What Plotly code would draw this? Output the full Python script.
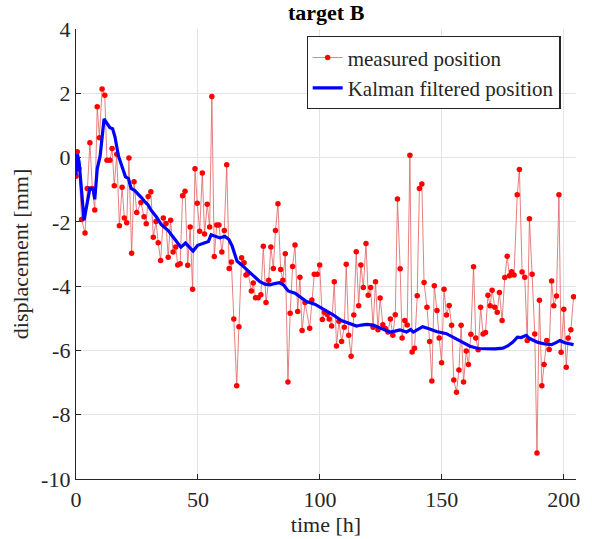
import plotly.graph_objects as go

# measured position (time [h], displacement [mm])
meas_t = [0.0, 0.5, 1.2, 2.3, 3.7, 4.6, 5.7, 6.7, 7.7, 8.7, 9.6, 10.7, 11.8, 12.7, 13.9, 14.8, 15.7, 16.7,
          17.8, 18.9, 19.8, 20.8, 21.7, 22.8, 23.8, 24.9, 26.6, 27.9, 28.8, 29.6, 30.7, 31.7, 32.8, 33.7,
          34.7, 35.8, 36.9, 37.8, 38.8, 39.8, 40.9, 41.7, 42.7, 43.7, 44.7, 45.8, 46.8, 47.8, 48.8, 49.7,
          50.7, 51.8, 52.7, 53.8, 54.8, 55.7, 56.7, 57.7, 58.6, 59.8, 60.8, 61.8, 62.8, 63.7, 64.7, 65.9,
          66.8, 67.9, 68.9, 69.7, 70.6, 71.9, 72.7, 73.6, 74.7, 75.8, 76.8, 77.9, 79.0, 79.9, 80.9, 81.8,
          82.8, 83.9, 84.8, 85.8, 86.9, 87.8, 88.8, 89.8, 90.9, 91.8, 92.7, 93.9, 95.8, 96.7, 97.7, 98.9,
          99.9, 101.0, 101.9, 103.0, 103.8, 104.8, 105.9, 106.8, 107.8, 108.9, 110.0, 110.8, 111.8, 112.8,
          113.9, 114.9, 115.9, 116.8, 117.8, 118.9, 119.8, 120.8, 121.8, 122.8, 123.8, 124.7, 125.8, 126.8,
          127.9, 128.9, 129.9, 130.9, 131.8, 132.9, 133.7, 134.8, 135.8, 136.9, 137.8, 138.8, 139.9, 140.8,
          141.8, 142.7, 143.9, 145.0, 145.9, 146.9, 148.0, 148.9, 149.9, 150.9, 151.9, 153.0, 154.0, 154.9,
          156.0, 157.0, 157.9, 158.9, 160.0, 160.9, 161.9, 163.0, 163.9, 164.9, 165.9, 166.9, 167.9, 168.9,
          169.8, 170.6, 171.7, 172.7, 173.6, 174.7, 175.8, 176.8, 177.7, 178.6, 179.6, 180.9, 181.8, 182.9,
          184.0, 185.0, 185.9, 187.0, 188.1, 189.0, 190.0, 191.0, 191.9, 193.0, 194.0, 195.0, 195.9, 197.0,
          198.0, 198.9, 200.0, 201.0, 201.8, 202.9, 204.0]
meas_y = [-0.58, 0.18, -0.34, -1.93, -2.35, -0.96, 0.46, -0.96, -1.63, 1.58, 0.62, 2.13, 1.94, -0.08, -0.08,
          0.28, -0.88, 0.10, -2.12, -0.92, -1.88, -2.03, -0.01, -2.98, -0.75, -1.71, -1.40, -1.84, -2.06,
          -1.21, -1.06, -2.48, -1.99, -2.65, -3.20, -1.88, -2.05, -3.10, -1.95, -2.94, -2.78, -3.34, -3.30,
          -1.19, -1.05, -3.35, -2.16, -4.10, -0.35, -1.42, -2.29, -0.48, -2.38, -1.45, -2.16, 1.90, -3.08,
          -2.10, -2.10, -2.94, -2.27, -0.22, -3.45, -3.25, -5.02, -7.10, -5.26, -3.12, -3.27, -3.65, -3.60,
          -4.15, -3.90, -4.36, -4.36, -4.27, -2.76, -4.51, -3.82, -2.78, -3.45, -2.27, -1.44, -3.48, -3.82,
          -2.99, -6.98, -4.84, -3.39, -2.72, -4.79, -3.72, -5.38, -4.51, -5.31, -4.43, -3.63, -3.63, -3.34,
          -5.04, -4.81, -4.88, -5.02, -5.24, -3.86, -5.86, -5.09, -5.72, -5.28, -3.32, -5.53, -6.18, -4.90,
          -2.93, -4.61, -3.34, -4.04, -2.67, -4.28, -4.04, -5.28, -3.86, -5.36, -4.37, -5.20, -5.32, -5.43,
          -5.02, -5.53, -4.89, -1.29, -3.46, -5.61, -5.07, -5.21, 0.07, -6.05, -5.93, -4.30, -0.96, -0.82,
          -3.89, -4.66, -5.72, -6.95, -3.99, -4.76, -5.61, -6.38, -4.10, -4.90, -4.60, -5.22, -6.92, -7.30,
          -6.61, -5.22, -6.98, -6.02, -6.44, -5.50, -3.40, -5.61, -5.98, -4.66, -5.49, -5.44, -4.28, -4.61,
          -4.13, -4.66, -4.81, -4.20, -5.07, -3.73, -3.07, -3.68, -3.55, -3.65, -1.16, -0.37, -3.56, -3.72,
          -5.69, -1.90, -3.63, -5.49, -9.19, -4.44, -7.10, -6.44, -5.69, -5.97, -3.84, -4.61, -4.31, -1.16,
          -6.06, -4.72, -6.52, -5.61, -5.36, -4.33]

# Kalman filtered position
kal_t = [0.0, 0.6, 1.3, 2.0, 3.3, 4.5, 5.7, 7.0, 7.7, 8.7, 9.9, 11.5, 12.5, 13.9, 15.0, 16.0, 17.4, 18.8,
         20.3, 21.5, 22.6, 24.0, 25.2, 27.0, 28.4, 29.5, 30.7, 33.0, 35.0, 37.8, 40.6, 43.0, 44.9, 46.0,
         48.0, 49.9, 52.2, 54.3, 55.4, 57.0, 59.0, 61.0, 62.7, 64.0, 65.0, 66.0, 67.9, 69.9, 72.0, 75.4,
         77.5, 79.5, 81.5, 83.3, 85.0, 87.0, 89.8, 91.8, 94.5, 97.9, 101.3, 105.4, 108.8, 112.2, 115.0,
         117.0, 119.1, 121.9, 124.6, 128.7, 130.8, 132.8, 135.5, 137.2, 138.3, 142.1, 145.0, 147.8, 151.9,
         156.0, 158.7, 161.5, 164.9, 167.6, 171.7, 175.0, 177.0, 179.0, 181.0, 182.5, 184.6, 186.0, 187.4,
         189.4, 192.2, 195.0, 197.0, 198.4, 200.4, 204.0]
kal_y = [-0.55, 0.10, -0.15, -0.90, -1.95, -1.45, -0.95, -0.97, -1.30, -0.35, 0.05, 1.20, 1.10, 0.93, 0.90,
         0.64, 0.05, -0.26, -0.60, -0.65, -0.96, -1.02, -1.11, -1.26, -1.39, -1.47, -1.63, -1.85, -2.09,
         -2.27, -2.55, -2.79, -2.66, -2.76, -2.91, -2.73, -2.66, -2.61, -2.40, -2.45, -2.50, -2.45, -2.55,
         -2.75, -2.96, -3.22, -3.34, -3.48, -3.63, -3.86, -3.94, -3.96, -3.92, -3.89, -3.96, -4.15, -4.22,
         -4.32, -4.48, -4.56, -4.71, -4.89, -5.07, -5.17, -5.24, -5.21, -5.19, -5.21, -5.30, -5.43, -5.40,
         -5.36, -5.43, -5.35, -5.43, -5.26, -5.33, -5.41, -5.48, -5.64, -5.77, -5.87, -5.94, -5.95, -5.95,
         -5.93, -5.86, -5.75, -5.59, -5.60, -5.53, -5.63, -5.69, -5.75, -5.80, -5.82, -5.75, -5.69, -5.76,
         -5.82]

x_ticks = [0, 50, 100, 150, 200]
y_ticks = [4, 2, 0, -2, -4, -6, -8, -10]
y_tick_text = ["4", "2", "0", "-2", "-4", "-6", "-8", "-10"]

FONT = "Liberation Serif, Times New Roman, serif"
FS = 22

fig = go.Figure()
fig.add_trace(go.Scatter(
    x=meas_t, y=meas_y, mode="lines+markers", name="measured position",
    line=dict(color="#e06060", width=0.8),
    marker=dict(color="#ff0000", size=5.5),
))
fig.add_trace(go.Scatter(
    x=kal_t, y=kal_y, mode="lines", name="Kalman filtered position",
    line=dict(color="#0000ff", width=3.2),
))

fig.update_layout(
    width=592, height=539,
    margin=dict(l=76, r=15, t=29, b=57),
    paper_bgcolor="white", plot_bgcolor="white",
    font=dict(family=FONT, size=FS, color="#262626"),
    title=dict(text="<b>target B</b>", x=0.551, xanchor="center", y=0.978, yanchor="middle",
               yref="container", font=dict(family=FONT, size=FS, color="black")),
    showlegend=True,
    legend=dict(x=0.461, y=0.984, xanchor="left", yanchor="top",
                bgcolor="white", bordercolor="#262626", borderwidth=1.2,
                font=dict(family=FONT, size=21, color="#262626"),
                tracegroupgap=0, itemwidth=30),
)
fig.update_xaxes(
    range=[0, 205], tickvals=x_ticks, ticks="inside", ticklen=5, tickcolor="#262626",
    tickfont=dict(family=FONT, size=FS, color="#262626"),
    showline=True, linecolor="#262626", linewidth=1.3, mirror=False,
    showgrid=True, gridcolor="#e3e3e3", gridwidth=1, zeroline=False,
    title=dict(text="time [h]", standoff=0, font=dict(family=FONT, size=FS, color="#262626")),
)
fig.update_yaxes(
    range=[-10, 4], tickvals=y_ticks, ticktext=y_tick_text, ticks="inside", ticklen=5,
    tickcolor="#262626", tickfont=dict(family=FONT, size=FS, color="#262626"),
    showline=True, linecolor="#262626", linewidth=1.3, mirror=False,
    showgrid=True, gridcolor="#e3e3e3", gridwidth=1, zeroline=False,
    title=dict(text="displacement [mm]", standoff=6, font=dict(family=FONT, size=FS, color="#262626")),
)

fig.write_html("out.html")
